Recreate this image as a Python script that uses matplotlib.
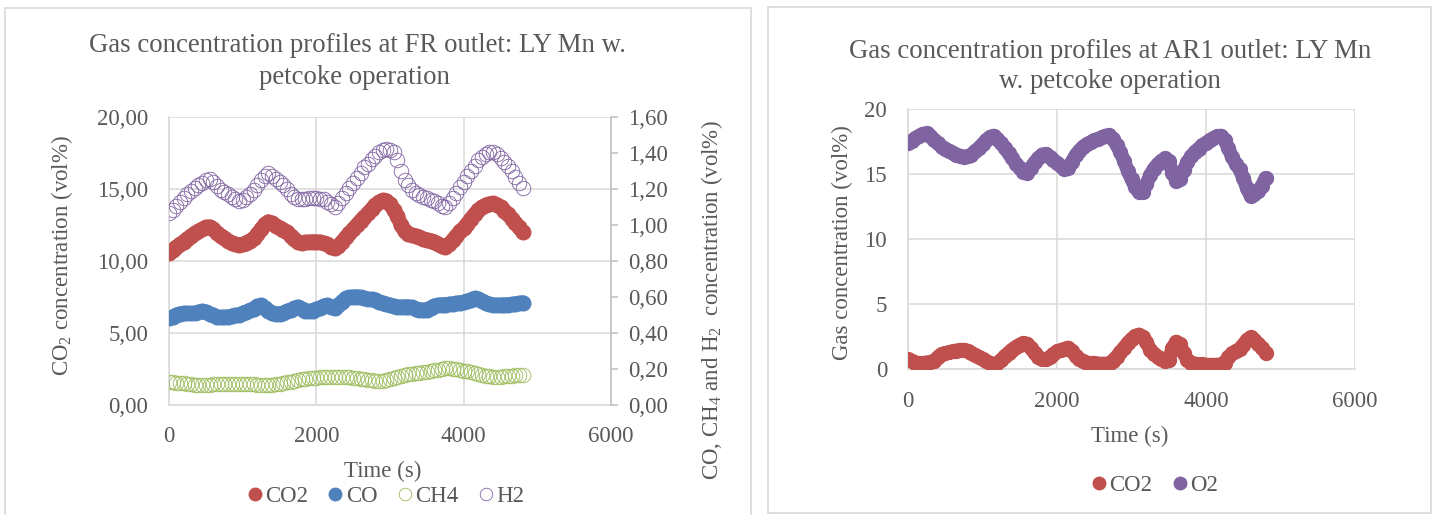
import numpy as np
import matplotlib
matplotlib.use("Agg")
import matplotlib.pyplot as plt
from matplotlib.lines import Line2D
from matplotlib.patches import Rectangle
from matplotlib.ticker import FuncFormatter

plt.rcParams['font.family'] = ['Liberation Serif', 'DejaVu Serif']
plt.rcParams['mathtext.fontset'] = 'custom'
plt.rcParams['mathtext.rm'] = 'Liberation Serif'
plt.rcParams['mathtext.it'] = 'Liberation Serif'
plt.rcParams['mathtext.default'] = 'regular'

TIME_STEP = 50  # s between samples

# ---------------- FR outlet (left chart) ----------------
fr_co2 = [10.55, 10.75, 10.95, 11.15, 11.35, 11.55, 11.75, 11.92, 12.05, 12.2,
          12.35, 12.38, 12.2, 11.95, 11.75, 11.57, 11.42, 11.28, 11.18, 11.1,
          11.15, 11.28, 11.42, 11.57, 11.85, 12.2, 12.55, 12.73, 12.62, 12.45,
          12.3, 12.18, 12.0, 11.75, 11.5, 11.3, 11.27, 11.3, 11.33, 11.34,
          11.34, 11.32, 11.25, 11.15, 11.0, 10.88, 11.05, 11.35, 11.65, 11.92,
          12.2, 12.5, 12.8, 13.05, 13.3, 13.6, 13.9, 14.1, 14.22, 14.2,
          13.95, 13.55, 13.1, 12.5, 12.05, 11.9, 11.82, 11.75, 11.65, 11.55,
          11.48, 11.42, 11.35, 11.2, 11.05, 11.0, 11.15, 11.45, 11.75, 12.05,
          12.3, 12.6, 12.95, 13.25, 13.55, 13.75, 13.9, 13.98, 14.0, 13.92,
          13.75, 13.5, 13.25, 12.95, 12.65, 12.35, 12.0]

fr_co = [0.481, 0.49, 0.5, 0.508, 0.51, 0.509, 0.509, 0.51, 0.515, 0.521,
         0.518, 0.508, 0.498, 0.49, 0.487, 0.488, 0.49, 0.494, 0.498, 0.502,
         0.51, 0.518, 0.526, 0.535, 0.548, 0.553, 0.54, 0.525, 0.513, 0.507,
         0.506, 0.512, 0.52, 0.528, 0.537, 0.545, 0.535, 0.524, 0.52, 0.525,
         0.532, 0.54, 0.55, 0.555, 0.545, 0.54, 0.555, 0.575, 0.592, 0.598,
         0.601, 0.602, 0.598, 0.592, 0.588, 0.588, 0.585, 0.575, 0.566, 0.56,
         0.553, 0.548, 0.546, 0.545, 0.546, 0.546, 0.542, 0.535, 0.53, 0.528,
         0.53, 0.54, 0.55, 0.556, 0.557, 0.558, 0.56, 0.563, 0.566, 0.569,
         0.572, 0.578, 0.586, 0.593, 0.588, 0.578, 0.567, 0.56, 0.557, 0.556,
         0.556, 0.557, 0.558, 0.56, 0.562, 0.565, 0.569]

fr_ch4 = [0.13, 0.128, 0.125, 0.122, 0.12, 0.117, 0.115, 0.113, 0.111, 0.111,
          0.112, 0.113, 0.114, 0.115, 0.116, 0.117, 0.117, 0.117, 0.117, 0.118,
          0.118, 0.117, 0.116, 0.114, 0.112, 0.111, 0.11, 0.11, 0.111, 0.114,
          0.118, 0.122, 0.126, 0.13, 0.135, 0.14, 0.143, 0.145, 0.148, 0.15,
          0.152, 0.154, 0.156, 0.157, 0.158, 0.158, 0.157, 0.156, 0.155, 0.154,
          0.152, 0.149, 0.146, 0.143, 0.14, 0.137, 0.135, 0.134, 0.135, 0.138,
          0.143, 0.148, 0.154, 0.16, 0.165, 0.17, 0.175, 0.177, 0.179, 0.182,
          0.185, 0.188, 0.192, 0.196, 0.2, 0.203, 0.204, 0.202, 0.198, 0.194,
          0.19, 0.187, 0.185, 0.18, 0.174, 0.168, 0.163, 0.159, 0.157, 0.157,
          0.158, 0.16, 0.161, 0.162, 0.164, 0.166, 0.167]

fr_h2 = [1.065, 1.085, 1.105, 1.13, 1.15, 1.17, 1.19, 1.205, 1.22, 1.235,
         1.25, 1.255, 1.24, 1.215, 1.195, 1.185, 1.17, 1.155, 1.142, 1.135,
         1.14, 1.155, 1.172, 1.192, 1.22, 1.25, 1.275, 1.287, 1.275, 1.255,
         1.24, 1.222, 1.2, 1.175, 1.155, 1.145, 1.143, 1.145, 1.148, 1.148,
         1.148, 1.147, 1.143, 1.13, 1.115, 1.102, 1.12, 1.15, 1.178, 1.204,
         1.232, 1.26, 1.29, 1.32, 1.34, 1.365, 1.385, 1.405, 1.418, 1.42,
         1.415, 1.405, 1.36, 1.3, 1.25, 1.22, 1.195, 1.18, 1.165, 1.155,
         1.148, 1.14, 1.132, 1.12, 1.105, 1.1, 1.12, 1.15, 1.18, 1.21,
         1.24, 1.27, 1.3, 1.33, 1.36, 1.38, 1.395, 1.405, 1.407, 1.395,
         1.375, 1.35, 1.33, 1.3, 1.265, 1.235, 1.205]

# ---------------- AR1 outlet (right chart) ----------------
ar_co2 = [0.75, 0.6, 0.5, 0.46, 0.47, 0.5, 0.55, 0.62, 0.9, 1.15,
          1.22, 1.28, 1.35, 1.42, 1.47, 1.48, 1.4, 1.25, 1.08, 0.9,
          0.75, 0.6, 0.45, 0.35, 0.45, 0.7, 1.0, 1.25, 1.5, 1.7,
          1.88, 2.0, 1.95, 1.6, 1.2, 0.95, 0.78, 0.75, 0.9, 1.15,
          1.35, 1.45, 1.55, 1.65, 1.4, 1.0, 0.75, 0.6, 0.5, 0.46,
          0.44, 0.42, 0.41, 0.41, 0.42, 0.65, 0.95, 1.3, 1.65, 2.0,
          2.3, 2.55, 2.65, 2.5, 2.05, 1.5, 1.15, 0.95, 0.8, 0.65,
          0.7, 1.6, 2.1, 1.9, 1.2, 0.7, 0.5, 0.42, 0.38, 0.35,
          0.33, 0.32, 0.32, 0.33, 0.33, 0.5, 0.9, 1.2, 1.38, 1.55,
          1.85, 2.25, 2.45, 2.2, 1.95, 1.65, 1.25]

ar_o2 = [17.38, 17.55, 17.75, 17.95, 18.1, 18.12, 17.9, 17.65, 17.35, 17.1,
         16.95, 16.8, 16.65, 16.5, 16.4, 16.32, 16.35, 16.5, 16.75, 17.0,
         17.3, 17.6, 17.85, 17.95, 17.7, 17.35, 17.0, 16.6, 16.2, 15.8,
         15.45, 15.15, 15.1, 15.5, 15.9, 16.2, 16.5, 16.55, 16.3, 16.05,
         15.85, 15.6, 15.4, 15.45, 15.95, 16.45, 16.8, 17.1, 17.3, 17.45,
         17.6, 17.7, 17.82, 17.95, 18.0, 17.7, 17.25, 16.7, 16.0, 15.25,
         14.6, 14.0, 13.6, 13.65, 14.2, 14.9, 15.4, 15.75, 16.0, 16.2,
         16.0, 15.1, 14.5, 14.6, 15.3, 15.9, 16.35, 16.7, 16.95, 17.2,
         17.4, 17.6, 17.75, 17.9, 17.95, 17.6, 17.0, 16.3, 15.8, 15.35,
         14.7, 13.9, 13.3, 13.45, 13.7, 14.1, 14.7]

fr_left_ticks = [0, 5, 10, 15, 20]
fr_right_ticks = [0.0, 0.2, 0.4, 0.6, 0.8, 1.0, 1.2, 1.4, 1.6]
x_ticks = [0, 2000, 4000, 6000]
ar_y_ticks = [0, 5, 10, 15, 20]

C_CO2 = '#C0504D'
C_CO = '#4F81BD'
C_CH4 = '#9BBB59'
C_H2 = '#8064A2'
C_O2 = '#8064A2'
TXT = '#595959'
GRID = '#D9D9D9'

W, H = 1440, 515
fig = plt.figure(figsize=(W / 100, H / 100), dpi=100)
fig.patch.set_facecolor('white')


def fx(px):
    return px / W


def fy(py):
    return 1 - py / H


def tseries(vals):
    return np.arange(len(vals)) * TIME_STEP


def filled_series(ax, vals, color, ms):
    t = tseries(vals)
    ax.plot(t, vals, ls='-', lw=ms, color=color, solid_capstyle='round',
            solid_joinstyle='round', marker='o', ms=ms, mec=color, mfc=color,
            zorder=3)


def open_series(ax, vals, color, ms):
    ax.plot(tseries(vals), vals, ls='none', marker='o', ms=ms, mfc='none',
            mec=color, mew=0.6, zorder=3)


# panel frames
fig.add_artist(Rectangle((fx(5), -0.02), fx(751) - fx(5), fy(8) + 0.02,
                         transform=fig.transFigure, facecolor='white',
                         edgecolor=GRID, lw=1.2, zorder=0))
fig.add_artist(Rectangle((fx(768), fy(513)), fx(1431) - fx(768), fy(7) - fy(513),
                         transform=fig.transFigure, facecolor='white',
                         edgecolor=GRID, lw=1.2, zorder=0))

FS = 16.5
TFS = 19.3
comma2 = FuncFormatter(lambda v, p: f"{v:.2f}".replace('.', ','))


def style_axes(ax):
    ax.set_facecolor('none')
    ax.grid(True, color=GRID, lw=1.1)
    ax.set_axisbelow(True)
    for s in ax.spines.values():
        s.set_color(GRID)
        s.set_linewidth(1.1)
    ax.tick_params(colors=TXT, labelsize=FS, length=0)


# ---------------- left chart ----------------
axL = fig.add_axes([fx(169), fy(405), fx(611) - fx(169), fy(117) - fy(405)])
style_axes(axL)
axL.set_xlim(0, 6000)
axL.set_ylim(0, 20)
axL.set_xticks(x_ticks)
axL.set_yticks(fr_left_ticks)
axL.yaxis.set_major_formatter(comma2)
axL.tick_params(axis='y', pad=15)
axL.tick_params(axis='x', pad=15)
axL.spines['top'].set_visible(False)
axL.spines['right'].set_visible(False)

axR = axL.twinx()
axR.set_ylim(0, 1.6)
axR.set_yticks(fr_right_ticks)
axR.yaxis.set_major_formatter(comma2)
for s in ['left', 'top', 'bottom']:
    axR.spines[s].set_visible(False)
axR.spines['right'].set_color('#BFBFBF')
axR.spines['right'].set_linewidth(1.1)
axR.tick_params(axis='y', colors=TXT, labelsize=FS, length=5, width=1.1,
                direction='out', pad=7)
axR.tick_params(axis='y', which='major', color='#BFBFBF')

MS = 10.5
filled_series(axL, fr_co2, C_CO2, MS)
filled_series(axR, fr_co, C_CO, MS)
open_series(axR, fr_ch4, C_CH4, MS)
open_series(axR, fr_h2, C_H2, MS)

fig.text(fx(357), fy(45), "Gas concentration profiles at FR outlet: LY Mn w.",
         ha='center', va='center', fontsize=TFS, color=TXT)
fig.text(fx(354), fy(77), "petcoke operation",
         ha='center', va='center', fontsize=TFS, color=TXT)
fig.text(fx(62), fy(256), "CO$_2$ concentration (vol%)", rotation=90,
         ha='center', va='center', fontsize=FS, color=TXT)
fig.text(fx(712), fy(300), "CO, CH$_4$ and H$_2$  concentration (vol%)", rotation=90,
         ha='center', va='center', fontsize=FS, color=TXT)
fig.text(fx(383), fy(471), "Time (s)", ha='center', va='center', fontsize=FS, color=TXT)

handlesL = [
    Line2D([], [], ls='none', marker='o', ms=9, color=C_CO2),
    Line2D([], [], ls='none', marker='o', ms=9, color=C_CO),
    Line2D([], [], ls='none', marker='o', ms=9, mfc='none', mec=C_CH4, mew=0.6),
    Line2D([], [], ls='none', marker='o', ms=9, mfc='none', mec=C_H2, mew=0.6),
]
fig.legend(handlesL, ['CO2', 'CO', 'CH4', 'H2'], loc='center',
           bbox_to_anchor=(fx(386), fy(496)), ncol=4, frameon=False,
           fontsize=FS, labelcolor=TXT, handlelength=0.6, handletextpad=0.15,
           columnspacing=0.9, borderpad=0)

# ---------------- right chart ----------------
ax2 = fig.add_axes([fx(908), fy(369), fx(1355) - fx(908), fy(109) - fy(369)])
style_axes(ax2)
ax2.set_xlim(0, 6000)
ax2.set_ylim(0, 20)
ax2.set_xticks(x_ticks)
ax2.set_yticks(ar_y_ticks)
ax2.tick_params(axis='y', pad=15)
ax2.tick_params(axis='x', pad=16)
ax2.spines['top'].set_visible(False)
ax2.spines['right'].set_visible(False)

MS2 = 10
filled_series(ax2, ar_co2, C_CO2, MS2)
filled_series(ax2, ar_o2, C_O2, MS2)

fig.text(fx(1110), fy(52), "Gas concentration profiles at AR1 outlet: LY Mn",
         ha='center', va='center', fontsize=TFS, color=TXT)
fig.text(fx(1110), fy(82), "w. petcoke operation",
         ha='center', va='center', fontsize=TFS, color=TXT)
fig.text(fx(842), fy(243), "Gas concentration (vol%)", rotation=90,
         ha='center', va='center', fontsize=FS, color=TXT)
fig.text(fx(1130), fy(436), "Time (s)", ha='center', va='center', fontsize=FS, color=TXT)

handlesR = [
    Line2D([], [], ls='none', marker='o', ms=9, color=C_CO2),
    Line2D([], [], ls='none', marker='o', ms=9, color=C_O2),
]
fig.legend(handlesR, ['CO2', 'O2'], loc='center',
           bbox_to_anchor=(fx(1155), fy(485)), ncol=2, frameon=False,
           fontsize=FS, labelcolor=TXT, handlelength=0.6, handletextpad=0.15,
           columnspacing=0.9, borderpad=0)

fig.savefig('out.png', dpi=100)
